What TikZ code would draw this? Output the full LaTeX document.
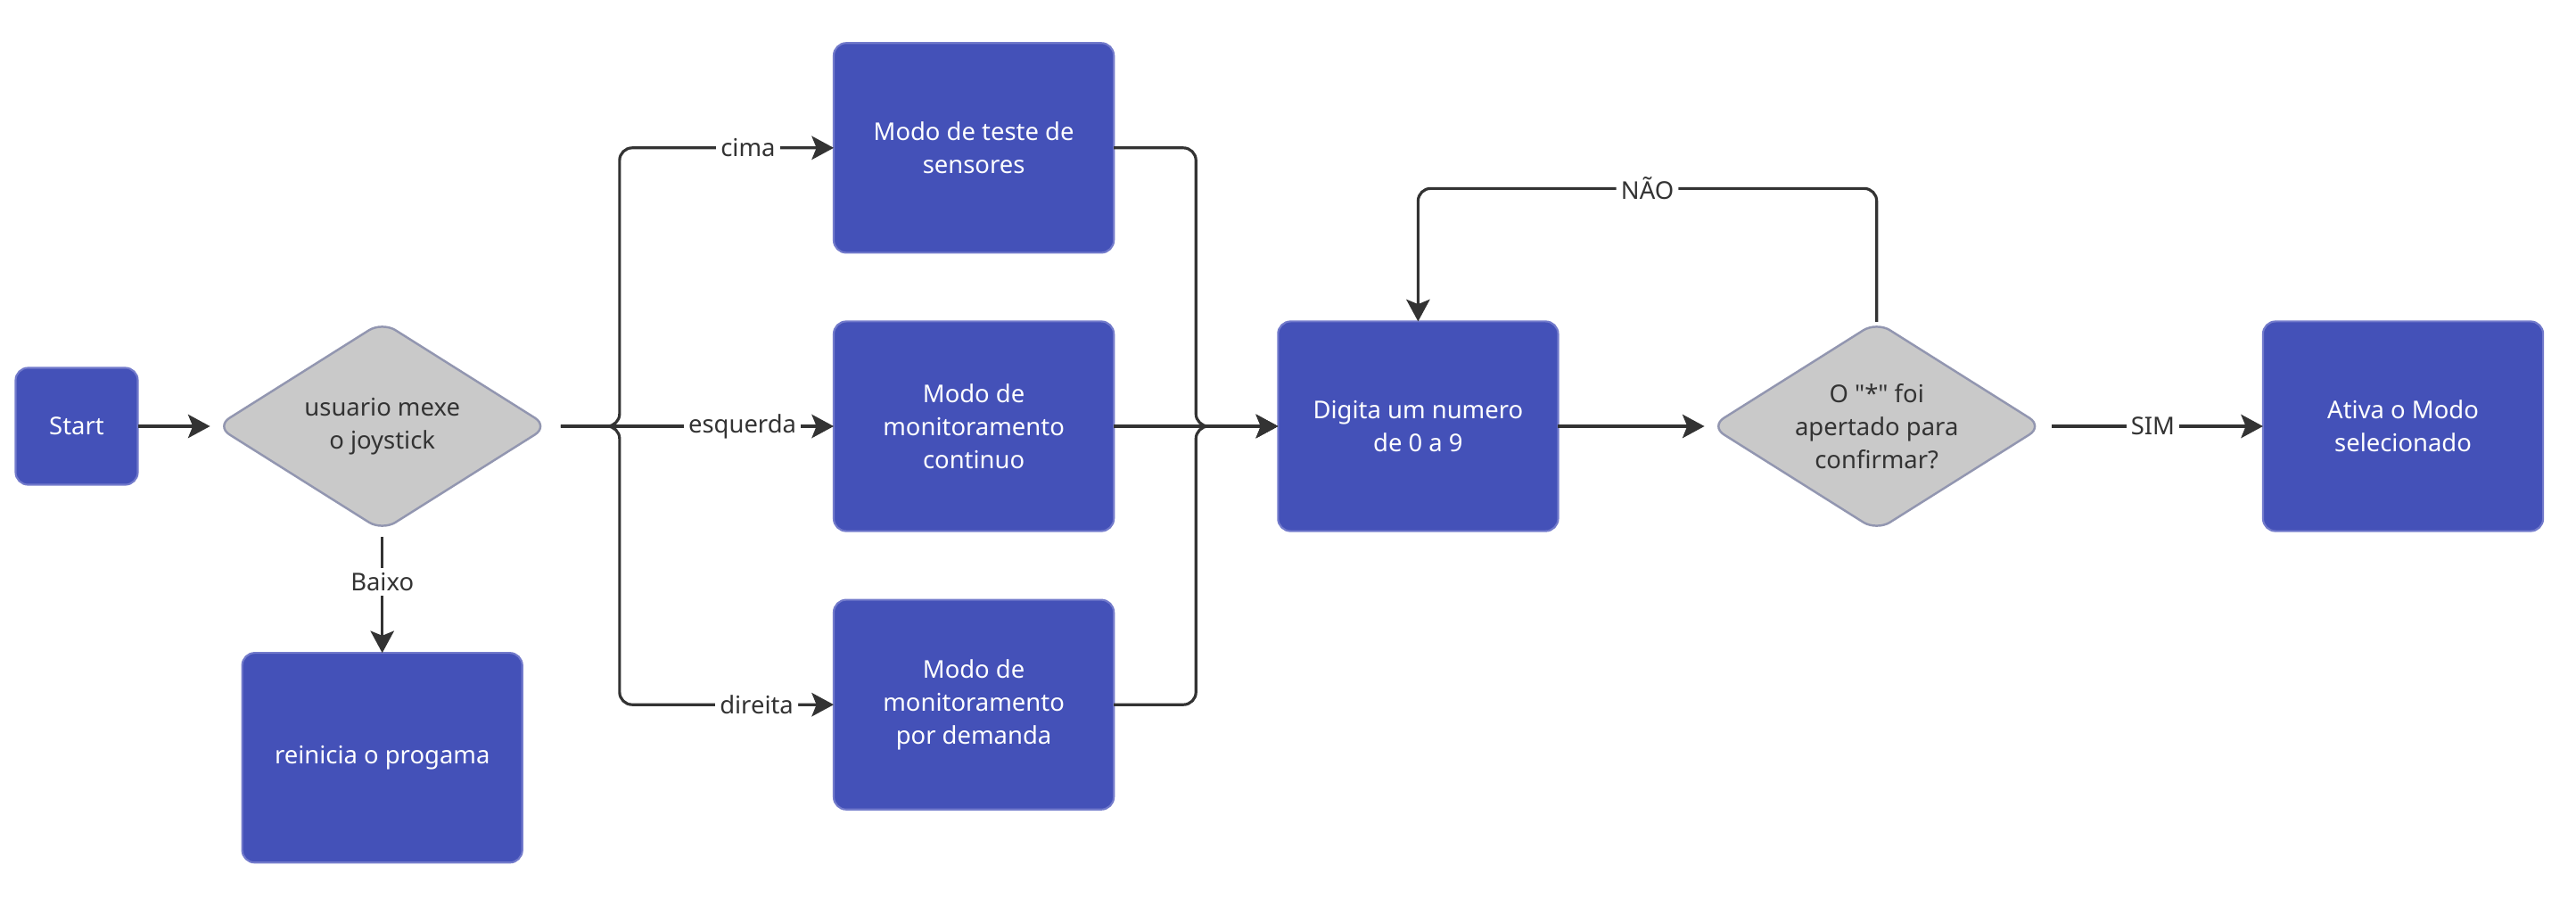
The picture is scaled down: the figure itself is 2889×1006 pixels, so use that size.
\documentclass[tikz,border=0pt]{standalone}
\usepackage{fontspec}
\setmainfont{Noto Sans}[Ligatures=TeXOff]
\usetikzlibrary{positioning, arrows.meta, calc, shapes.geometric}
\definecolor{boxblue}{HTML}{4451B8}
\definecolor{boxedge}{HTML}{727ACB}
\definecolor{decgray}{HTML}{C9C9C9}
\definecolor{decedge}{HTML}{9296B0}
\definecolor{ink}{HTML}{333333}

\begin{document}
\begin{tikzpicture}[x=0.01cm, y=-0.01cm]
		% Define styles
		\tikzset{
			txt/.style={font=\fontsize{7.8}{10.5}\selectfont},
			block/.style={rectangle, rounded corners=4pt, draw=boxedge, line width=0.6pt, fill=boxblue, text=white, align=center, minimum width=3.14cm, minimum height=2.35cm, outer sep=0pt, txt},
			startbox/.style={block, minimum width=1.37cm, minimum height=1.31cm},
			decision/.style={diamond, aspect=1.59, rounded corners=5pt, draw=decedge, line width=0.7pt, fill=decgray, text=ink, align=center, minimum width=3.72cm, minimum height=2.34cm, inner sep=0pt, outer sep=0pt, txt},
			line/.style={draw=ink, line width=0.9pt, -{Stealth[length=7pt, width=7.5pt, inset=1.5pt]}},
			tag/.style={fill=white, text=ink, inner sep=1.5pt, txt}
		}
		
		\path[use as bounding box, fill=white] (0,0) rectangle (2889,1006);
		
		% Nodes
		\node[startbox] (start) at (86,478) {Start};
		\node[decision, right=0.88cm of start] (joy) {usuario mexe\\o joystick};
		\node[block, below=1.37cm of joy] (reset) {reinicia o progama};
		
		\node[block, right=3.2cm of joy] (cont) {Modo de\\monitoramento\\continuo};
		\node[block, above=0.77cm of cont] (teste) {Modo de teste de\\sensores};
		\node[block, below=0.77cm of cont] (demanda) {Modo de\\monitoramento\\por demanda};
		
		\node[block, right=1.84cm of cont] (digita) {Digita um numero\\de 0 a 9};
		\node[decision, right=1.71cm of digita] (conf) {O "*" foi\\apertado para\\confirmar?};
		\node[block, right=2.47cm of conf] (ativa) {Ativa o Modo\\selecionado};
		
		\coordinate (fork) at ($(joy.east)!0.25!(cont.west)$);
		\coordinate (merge) at ($(cont.east)!0.5!(digita.west)$);
		\coordinate[above=1.49cm of digita.north] (loop);
		
		% Arrows
		\draw[line, shorten >=2pt] (start.east) -- (joy.west);
		\draw[line, shorten <=2pt] (joy.south) -- (reset.north) node[tag, pos=0.42] {Baixo};
		
		\draw[line, rounded corners=4pt, shorten <=4pt] (joy.east) -- (fork) |- (teste.west) node[tag, pos=0.8] {cima};
		\draw[line, shorten <=4pt] (joy.east) -- (cont.west) node[tag, pos=0.68] {esquerda};
		\draw[line, rounded corners=4pt, shorten <=4pt] (joy.east) -- (fork) |- (demanda.west) node[tag, pos=0.82] {direita};
		
		\draw[line, rounded corners=4pt] (teste.east) -| (merge) -- (digita.west);
		\draw[line] (cont.east) -- (digita.west);
		\draw[line, rounded corners=4pt] (demanda.east) -| (merge) -- (digita.west);
		
		\draw[line, shorten >=2pt] (digita.east) -- (conf.west);
		\draw[line, rounded corners=4pt] (conf.north) |- (loop) node[tag, pos=0.75] {NÃO} -- (digita.north);
		\draw[line, shorten <=3pt] (conf.east) -- (ativa.west) node[tag, midway] {SIM};
	\end{tikzpicture}
\end{document}
